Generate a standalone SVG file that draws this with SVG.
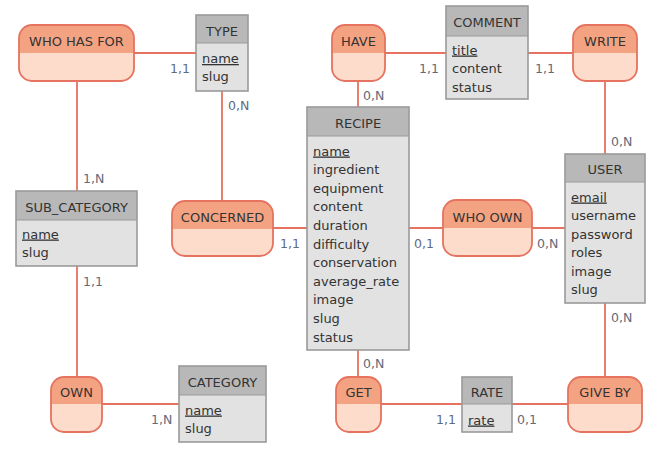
<svg xmlns="http://www.w3.org/2000/svg" width="654" height="451" viewBox="0 0 654 451">
<style>
.bg{fill:#ffffff}
.eb{fill:#e2e2e2;stroke:none}
.eh{fill:#b8b8b8;stroke:none}
.eo{fill:none;stroke:#9a9a9a;stroke-width:1.6}
.ed{stroke:#9a9a9a;stroke-width:1}
.rb{fill:#fddccb;stroke:none}
.rh{fill:#f4a382;stroke:none}
.ro{fill:none;stroke:#e5735f;stroke-width:1.8}
.t{font-family:"DejaVu Sans",Verdana,sans-serif;font-size:13px;fill:#333333}
.c{text-anchor:middle}
.u{text-decoration:underline}
.l{font-family:"DejaVu Sans",Verdana,sans-serif;font-size:12.5px;fill:#626a7a}
.cn{fill:none;stroke:#e5735f;stroke-width:1.8}
</style>
<rect class="bg" x="0" y="0" width="654" height="451"/>
<g id="connectors">
<path class="cn" d="M134 53H196"/>
<path class="cn" d="M77 81V191"/>
<path class="cn" d="M222 91V201"/>
<path class="cn" d="M77 266V377"/>
<path class="cn" d="M102 404H179"/>
<path class="cn" d="M273 228H307"/>
<path class="cn" d="M358 81V107"/>
<path class="cn" d="M385 53H446"/>
<path class="cn" d="M528 53H573"/>
<path class="cn" d="M605 81V154"/>
<path class="cn" d="M409 228H443"/>
<path class="cn" d="M532 228H565"/>
<path class="cn" d="M605 303V377"/>
<path class="cn" d="M358 350V377"/>
<path class="cn" d="M381 404H462"/>
<path class="cn" d="M512 404H568"/>
<text class="l" x="170" y="72.5">1,1</text>
<text class="l" x="228" y="109.5">0,N</text>
<text class="l" x="83" y="182.5">1,N</text>
<text class="l" x="83" y="285.5">1,1</text>
<text class="l" x="151" y="423.5">1,N</text>
<text class="l" x="280" y="247.5">1,1</text>
<text class="l" x="363" y="99.5">0,N</text>
<text class="l" x="419" y="72.5">1,1</text>
<text class="l" x="535" y="72.5">1,1</text>
<text class="l" x="611" y="145.5">0,N</text>
<text class="l" x="414" y="247.5">0,1</text>
<text class="l" x="537" y="247.5">0,N</text>
<text class="l" x="611" y="321.5">0,N</text>
<text class="l" x="363" y="367.5">0,N</text>
<text class="l" x="436" y="423.5">1,1</text>
<text class="l" x="517" y="423.5">0,1</text>
</g>
<g id="who_has_for">
<rect class="rb" x="19" y="25" width="115" height="56" rx="13"/>
<path class="rh" d="M19 53V38A13 13 0 0 1 32 25H121A13 13 0 0 1 134 38V53Z"/>
<rect class="ro" x="19" y="25" width="115" height="56" rx="13"/>
<text class="t c" x="76.5" y="45.5">WHO HAS FOR</text>
</g>
<g id="have">
<rect class="rb" x="332" y="25" width="53" height="56" rx="13"/>
<path class="rh" d="M332 53V38A13 13 0 0 1 345 25H372A13 13 0 0 1 385 38V53Z"/>
<rect class="ro" x="332" y="25" width="53" height="56" rx="13"/>
<text class="t c" x="358.5" y="45.5">HAVE</text>
</g>
<g id="write">
<rect class="rb" x="573" y="25" width="64" height="56" rx="13"/>
<path class="rh" d="M573 53V38A13 13 0 0 1 586 25H624A13 13 0 0 1 637 38V53Z"/>
<rect class="ro" x="573" y="25" width="64" height="56" rx="13"/>
<text class="t c" x="605" y="45.5">WRITE</text>
</g>
<g id="concerned">
<rect class="rb" x="172" y="201" width="101" height="55" rx="13"/>
<path class="rh" d="M172 229V214A13 13 0 0 1 185 201H260A13 13 0 0 1 273 214V229Z"/>
<rect class="ro" x="172" y="201" width="101" height="55" rx="13"/>
<text class="t c" x="222.5" y="221.5">CONCERNED</text>
</g>
<g id="who_own">
<rect class="rb" x="443" y="200" width="89" height="56" rx="13"/>
<path class="rh" d="M443 228V213A13 13 0 0 1 456 200H519A13 13 0 0 1 532 213V228Z"/>
<rect class="ro" x="443" y="200" width="89" height="56" rx="13"/>
<text class="t c" x="487.5" y="221.5">WHO OWN</text>
</g>
<g id="own">
<rect class="rb" x="51" y="377" width="51" height="55" rx="13"/>
<path class="rh" d="M51 404V390A13 13 0 0 1 64 377H89A13 13 0 0 1 102 390V404Z"/>
<rect class="ro" x="51" y="377" width="51" height="55" rx="13"/>
<text class="t c" x="76.5" y="396.5">OWN</text>
</g>
<g id="get">
<rect class="rb" x="336" y="377" width="45" height="55" rx="13"/>
<path class="rh" d="M336 404V390A13 13 0 0 1 349 377H368A13 13 0 0 1 381 390V404Z"/>
<rect class="ro" x="336" y="377" width="45" height="55" rx="13"/>
<text class="t c" x="358.5" y="396.5">GET</text>
</g>
<g id="give_by">
<rect class="rb" x="568" y="377" width="74" height="55" rx="13"/>
<path class="rh" d="M568 404V390A13 13 0 0 1 581 377H629A13 13 0 0 1 642 390V404Z"/>
<rect class="ro" x="568" y="377" width="74" height="55" rx="13"/>
<text class="t c" x="605" y="396.5">GIVE BY</text>
</g>
<g id="type">
<rect class="eb" x="196" y="15" width="52" height="76"/>
<rect class="eh" x="196" y="15" width="52" height="28"/>
<path class="ed" d="M196 43H248"/>
<rect class="eo" x="196" y="15" width="52" height="76"/>
<text class="t c" x="222" y="35.5">TYPE</text>
<text class="t u" x="202" y="63">name</text>
<text class="t" x="202" y="81">slug</text>
</g>
<g id="sub_category">
<rect class="eb" x="16" y="191" width="121" height="75"/>
<rect class="eh" x="16" y="191" width="121" height="29"/>
<path class="ed" d="M16 220H137"/>
<rect class="eo" x="16" y="191" width="121" height="75"/>
<text class="t c" x="76.5" y="211.5">SUB_CATEGORY</text>
<text class="t u" x="22" y="238.5">name</text>
<text class="t" x="22" y="256.5">slug</text>
</g>
<g id="recipe">
<rect class="eb" x="307" y="107" width="102" height="243"/>
<rect class="eh" x="307" y="107" width="102" height="29"/>
<path class="ed" d="M307 136H409"/>
<rect class="eo" x="307" y="107" width="102" height="243"/>
<text class="t c" x="358" y="128">RECIPE</text>
<text class="t u" x="313" y="155.5">name</text>
<text class="t" x="313" y="174.1">ingredient</text>
<text class="t" x="313" y="192.7">equipment</text>
<text class="t" x="313" y="211.3">content</text>
<text class="t" x="313" y="229.9">duration</text>
<text class="t" x="313" y="248.5">difficulty</text>
<text class="t" x="313" y="267.1">conservation</text>
<text class="t" x="313" y="285.7">average_rate</text>
<text class="t" x="313" y="304.3">image</text>
<text class="t" x="313" y="322.9">slug</text>
<text class="t" x="313" y="341.5">status</text>
</g>
<g id="comment">
<rect class="eb" x="446" y="6" width="82" height="93"/>
<rect class="eh" x="446" y="6" width="82" height="30"/>
<path class="ed" d="M446 36H528"/>
<rect class="eo" x="446" y="6" width="82" height="93"/>
<text class="t c" x="487" y="26.5">COMMENT</text>
<text class="t u" x="452" y="54.5">title</text>
<text class="t" x="452" y="73">content</text>
<text class="t" x="452" y="91.5">status</text>
</g>
<g id="user">
<rect class="eb" x="565" y="154" width="80" height="149"/>
<rect class="eh" x="565" y="154" width="80" height="28"/>
<path class="ed" d="M565 182H645"/>
<rect class="eo" x="565" y="154" width="80" height="149"/>
<text class="t c" x="605" y="173.5">USER</text>
<text class="t u" x="571" y="201.5">email</text>
<text class="t" x="571" y="220">username</text>
<text class="t" x="571" y="238.5">password</text>
<text class="t" x="571" y="257">roles</text>
<text class="t" x="571" y="275.5">image</text>
<text class="t" x="571" y="294">slug</text>
</g>
<g id="category">
<rect class="eb" x="179" y="366" width="87" height="76"/>
<rect class="eh" x="179" y="366" width="87" height="29"/>
<path class="ed" d="M179 395H266"/>
<rect class="eo" x="179" y="366" width="87" height="76"/>
<text class="t c" x="222.5" y="386.5">CATEGORY</text>
<text class="t u" x="185" y="414.5">name</text>
<text class="t" x="185" y="432.5">slug</text>
</g>
<g id="rate">
<rect class="eb" x="462" y="377" width="50" height="55"/>
<rect class="eh" x="462" y="377" width="50" height="27"/>
<path class="ed" d="M462 404H512"/>
<rect class="eo" x="462" y="377" width="50" height="55"/>
<text class="t c" x="487" y="396.5">RATE</text>
<text class="t u" x="468" y="424.5">rate</text>
</g>
</svg>
